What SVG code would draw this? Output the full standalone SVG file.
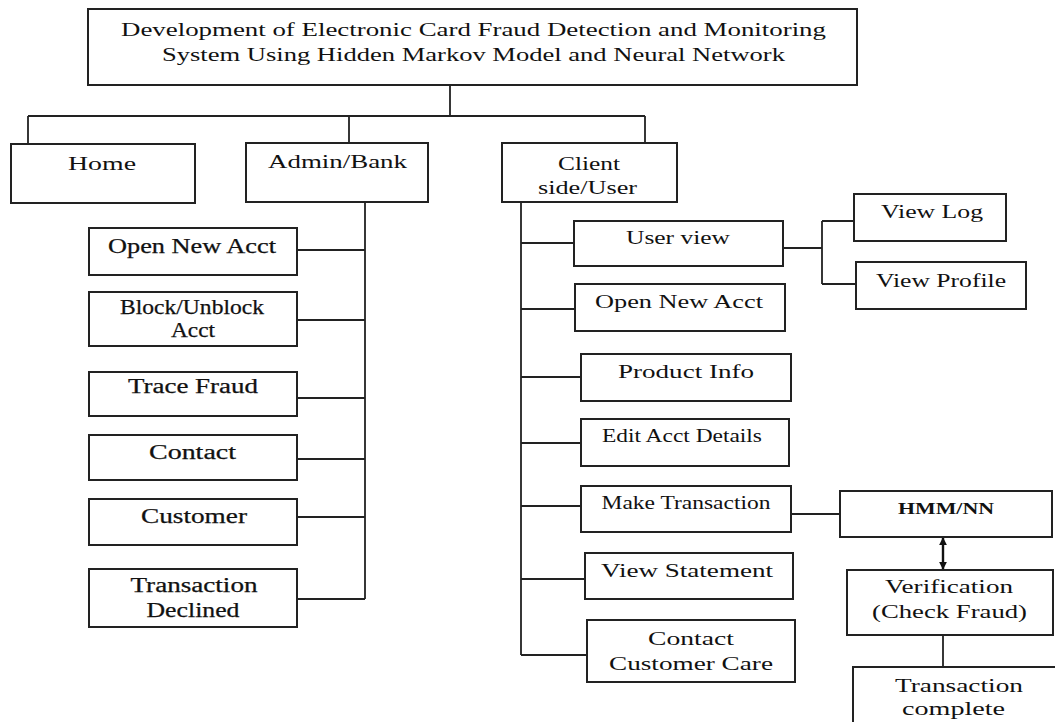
<svg xmlns="http://www.w3.org/2000/svg" width="1055" height="722" viewBox="0 0 1055 722">
<style>
.box{fill:#fff;stroke:#222;stroke-width:2}
.ln{fill:none;stroke:#222;stroke-width:1.8}
.arr{fill:none;stroke:#111;stroke-width:2.4}
text{font-family:"Liberation Serif","Times New Roman",serif;font-size:19px;fill:#111;text-anchor:middle}
.k{font-size:20px;stroke:#111;stroke-width:0.25}
.b{font-weight:bold;font-size:16px}
</style>
<defs>
<marker id="ah" viewBox="0 0 10 10" refX="9" refY="5" markerWidth="8" markerHeight="8" orient="auto-start-reverse" markerUnits="userSpaceOnUse">
<path d="M0 0 L10 5 L0 10 Z" fill="#111"/>
</marker>
</defs>
<rect width="1055" height="722" fill="#fff"/>
<g id="connectors">
<path class="ln" d="M450 85 V116 M28 116 H645 M28 116 V144 M349 116 V143 M645 116 V143"/>
<path class="ln" d="M365 202 V599 M297 250 H365 M297 320 H365 M297 398 H365 M297 459 H365 M297 517 H365 M297 599 H365"/>
<path class="ln" d="M521 202 V655 M521 243 H574 M521 309 H575 M521 377 H581 M521 443 H581 M521 506 H581 M521 579 H585 M521 655 H587"/>
<path class="ln" d="M783 248 H822 M822 221 V284 M822 221 H854 M822 284 H856"/>
<path class="ln" d="M791 514 H840"/>
<path class="arr" d="M943 538 V569" marker-start="url(#ah)" marker-end="url(#ah)"/>
<path class="ln" d="M943 635 V667"/>
</g>
<g id="title"><rect class="box" x="88" y="9" width="769" height="76"/>
<text x="473.5" y="36" textLength="705" lengthAdjust="spacingAndGlyphs">Development of Electronic Card Fraud Detection and Monitoring</text>
<text x="473.5" y="61" textLength="623" lengthAdjust="spacingAndGlyphs">System Using Hidden Markov Model and Neural Network</text></g>
<g id="home"><rect class="box" x="11" y="144" width="184" height="59"/>
<text x="102" y="170" textLength="68" lengthAdjust="spacingAndGlyphs">Home</text></g>
<g id="admin"><rect class="box" x="246" y="143" width="182" height="59"/>
<text x="337.5" y="168" textLength="139" lengthAdjust="spacingAndGlyphs">Admin/Bank</text></g>
<g id="client"><rect class="box" x="502" y="143" width="175" height="59"/>
<text x="589" y="170" textLength="62" lengthAdjust="spacingAndGlyphs">Client</text>
<text x="587.5" y="194" textLength="99" lengthAdjust="spacingAndGlyphs">side/User</text></g>
<g id="a-open"><rect class="box" x="89" y="228" width="208" height="47"/>
<text class="k" x="192" y="253" textLength="168" lengthAdjust="spacingAndGlyphs">Open New Acct</text></g>
<g id="a-block"><rect class="box" x="89" y="292" width="208" height="54"/>
<text class="k" x="192" y="314" textLength="144" lengthAdjust="spacingAndGlyphs">Block/Unblock</text>
<text class="k" x="193" y="337" textLength="44" lengthAdjust="spacingAndGlyphs">Acct</text></g>
<g id="a-trace"><rect class="box" x="89" y="372" width="208" height="44"/>
<text class="k" x="193" y="393" textLength="130" lengthAdjust="spacingAndGlyphs">Trace Fraud</text></g>
<g id="a-contact"><rect class="box" x="89" y="435" width="208" height="45"/>
<text class="k" x="192.5" y="459" textLength="87" lengthAdjust="spacingAndGlyphs">Contact</text></g>
<g id="a-customer"><rect class="box" x="89" y="499" width="208" height="46"/>
<text class="k" x="194" y="523" textLength="106" lengthAdjust="spacingAndGlyphs">Customer</text></g>
<g id="a-declined"><rect class="box" x="89" y="569" width="208" height="58"/>
<text class="k" x="194" y="592" textLength="127" lengthAdjust="spacingAndGlyphs">Transaction</text>
<text class="k" x="193" y="617" textLength="93" lengthAdjust="spacingAndGlyphs">Declined</text></g>
<g id="c-userview"><rect class="box" x="574" y="221" width="209" height="45"/>
<text x="678" y="244" textLength="104" lengthAdjust="spacingAndGlyphs">User view</text></g>
<g id="c-viewlog"><rect class="box" x="854" y="194" width="152" height="47"/>
<text x="932" y="218" textLength="102" lengthAdjust="spacingAndGlyphs">View Log</text></g>
<g id="c-viewprofile"><rect class="box" x="856" y="262" width="170" height="47"/>
<text x="941" y="287" textLength="130" lengthAdjust="spacingAndGlyphs">View Profile</text></g>
<g id="c-open"><rect class="box" x="575" y="284" width="210" height="47"/>
<text x="679" y="308" textLength="168" lengthAdjust="spacingAndGlyphs">Open New Acct</text></g>
<g id="c-product"><rect class="box" x="581" y="354" width="210" height="47"/>
<text x="686" y="378" textLength="136" lengthAdjust="spacingAndGlyphs">Product Info</text></g>
<g id="c-edit"><rect class="box" x="581" y="419" width="208" height="47"/>
<text x="682" y="442" textLength="160" lengthAdjust="spacingAndGlyphs">Edit Acct Details</text></g>
<g id="c-make"><rect class="box" x="581" y="486" width="210" height="46"/>
<text x="686" y="509" textLength="169" lengthAdjust="spacingAndGlyphs">Make Transaction</text></g>
<g id="c-statement"><rect class="box" x="585" y="553" width="208" height="46"/>
<text x="687" y="577" textLength="172" lengthAdjust="spacingAndGlyphs">View Statement</text></g>
<g id="c-care"><rect class="box" x="587" y="620" width="208" height="62"/>
<text x="691" y="645" textLength="86" lengthAdjust="spacingAndGlyphs">Contact</text>
<text x="691" y="670" textLength="164" lengthAdjust="spacingAndGlyphs">Customer Care</text></g>
<g id="hmm"><rect class="box" x="840" y="491" width="212" height="46"/>
<text class="b" x="946" y="514" textLength="96" lengthAdjust="spacingAndGlyphs">HMM/NN</text></g>
<g id="verification"><rect class="box" x="847" y="570" width="206" height="65"/>
<text x="949" y="593" textLength="128" lengthAdjust="spacingAndGlyphs">Verification</text>
<text x="949.5" y="618" textLength="155" lengthAdjust="spacingAndGlyphs">(Check Fraud)</text></g>
<g id="complete"><rect class="box" x="853" y="667" width="220" height="80"/>
<text x="959" y="692" textLength="128" lengthAdjust="spacingAndGlyphs">Transaction</text>
<text x="953.5" y="715" textLength="103" lengthAdjust="spacingAndGlyphs">complete</text></g>
</svg>
